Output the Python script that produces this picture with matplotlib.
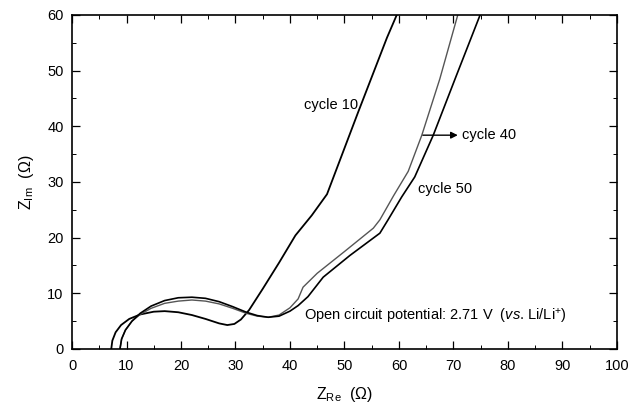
import matplotlib
matplotlib.use("Agg")
import matplotlib.pyplot as plt
from matplotlib.ticker import MultipleLocator

plt.rcParams['font.family'] = ['Liberation Sans', 'DejaVu Sans']
plt.rcParams['mathtext.fontset'] = 'custom'
plt.rcParams['mathtext.rm'] = 'Liberation Sans'
plt.rcParams['mathtext.it'] = 'Liberation Sans:italic'

# cycle 10 (black)
x_c10 = [7.2, 7.4, 8.0, 9.0, 10.5, 12.5, 15, 17, 19.5, 22, 24.5, 27, 28.5, 29.8,
         31, 32.5, 35, 38, 41, 44, 46.8, 52.5, 57.8, 59.6]
y_c10 = [0, 1.5, 3.0, 4.3, 5.4, 6.2, 6.7, 6.8, 6.6, 6.1, 5.4, 4.6, 4.3, 4.5,
         5.3, 7.0, 10.8, 15.5, 20.4, 24.0, 27.8, 42.5, 55.9, 60]

# cycle 40 (grey)
x_c40 = [8.8, 9.1, 9.8, 11, 12.5, 14.5, 17, 19.5, 22, 24.5, 27, 29.5, 32, 34, 36,
         38, 40, 41.5, 42.4, 45, 50, 55.3, 56.5, 59, 61.7, 64.2, 67.5, 70.8]
y_c40 = [0, 1.8, 3.4, 5.0, 6.2, 7.3, 8.2, 8.6, 8.8, 8.6, 8.1, 7.3, 6.4, 5.9, 5.7,
         6.1, 7.4, 9.0, 11.1, 13.6, 17.5, 21.7, 23.2, 27.5, 31.9, 38.4, 48.5, 60]

# cycle 50 (black)
x_c50 = [8.8, 9.1, 9.8, 11, 12.5, 14.5, 17, 19.5, 22, 24.5, 27, 29.5, 32, 34, 36,
         38, 40, 41.5, 43.3, 46.1, 51, 56.5, 58.0, 60.5, 62.9, 66.3, 70.5, 74.9]
y_c50 = [0, 1.8, 3.4, 5.0, 6.4, 7.7, 8.7, 9.2, 9.3, 9.1, 8.5, 7.6, 6.6, 6.0, 5.7,
         5.9, 6.8, 7.8, 9.4, 12.9, 16.8, 20.8, 23.2, 27.3, 30.9, 38.4, 49, 60]

fig = plt.figure(figsize=(6.34, 4.03), dpi=100)
ax = fig.add_axes([0.1136, 0.134, 0.8594, 0.829])

ax.plot(x_c10, y_c10, color='black', lw=1.3)
ax.plot(x_c40, y_c40, color='#555555', lw=1.0)
ax.plot(x_c50, y_c50, color='black', lw=1.2)

ax.set_xlim(0, 100)
ax.set_ylim(0, 60)
ax.xaxis.set_major_locator(MultipleLocator(10))
ax.xaxis.set_minor_locator(MultipleLocator(5))
ax.yaxis.set_major_locator(MultipleLocator(10))
ax.yaxis.set_minor_locator(MultipleLocator(5))
ax.tick_params(which='both', direction='in', top=True, right=True, labelsize=10.5)
ax.tick_params(which='major', length=5.5, width=0.9)
ax.tick_params(which='minor', length=3, width=0.7)
ax.tick_params(axis='x', pad=7)
ax.tick_params(axis='y', pad=6)
for s in ax.spines.values():
    s.set_linewidth(1.2)

ax.set_xlabel(r'Z$_{\mathrm{Re}}$  (Ω)', fontsize=11.5, labelpad=9)
ax.set_ylabel(r'Z$_{\mathrm{Im}}$  (Ω)', fontsize=11.5, labelpad=8)

ax.text(52.5, 43.8, 'cycle 10', fontsize=10.5, ha='right', va='center')
ax.annotate('', xy=(70.8, 38.4), xytext=(64.4, 38.4),
            arrowprops=dict(arrowstyle='-|>', color='black', lw=1.0,
                            mutation_scale=10, shrinkA=0, shrinkB=0))
ax.text(71.6, 38.4, 'cycle 40', fontsize=10.5, ha='left', va='center')
ax.text(63.5, 28.7, 'cycle 50', fontsize=10.5, ha='left', va='center')
ax.text(42.6, 5.9, r'Open circuit potential: 2.71 V  ($\mathit{vs}$. Li/Li$^{+}$)',
        fontsize=10.5, ha='left', va='center')

fig.savefig('out.png', dpi=100)
